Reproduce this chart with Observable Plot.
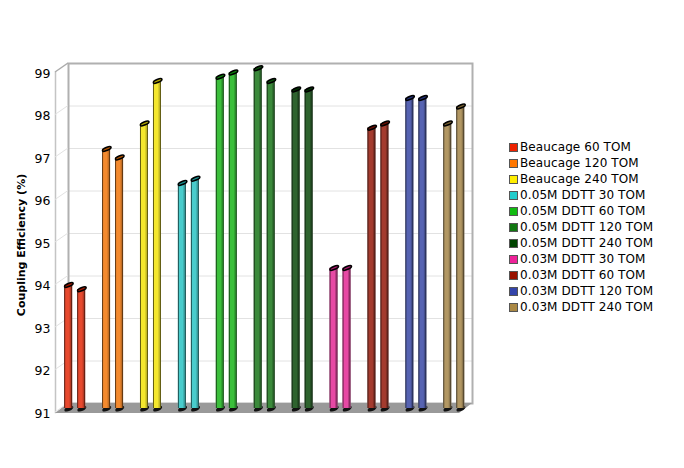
<!DOCTYPE html>
<html><head><meta charset="utf-8">
<script src="https://cdn.jsdelivr.net/npm/d3@7"></script>
<script src="https://cdn.jsdelivr.net/npm/@observablehq/plot@0.6"></script>
<style>
html,body{margin:0;padding:0;background:#fff}
#wrap{position:relative;width:684px;height:468px;overflow:hidden}
#legend{position:absolute;left:509px;top:139px;font:12px "DejaVu Sans",sans-serif;color:#000}
#legend div{height:16px;line-height:16px;white-space:nowrap;display:flex;align-items:center}
#legend i{display:inline-block;width:7px;height:7px;border:1px solid #555;margin-right:2px;box-sizing:content-box}
#legend span{letter-spacing:0.1px}
</style></head><body><div id="wrap"><div id="legend"></div></div>
<script>
const seriesNames = ["Beaucage 60 TOM","Beaucage 120 TOM","Beaucage 240 TOM","0.05M DDTT 30 TOM","0.05M DDTT 60 TOM","0.05M DDTT 120 TOM","0.05M DDTT 240 TOM","0.03M DDTT 30 TOM","0.03M DDTT 60 TOM","0.03M DDTT 120 TOM","0.03M DDTT 240 TOM"];
const firstValues = [93.9,97.1,97.7,96.3,98.8,99.0,98.5,94.3,97.6,98.3,97.7];
const secondValues = [93.8,96.9,98.7,96.4,98.9,98.7,98.5,94.3,97.7,98.3,98.1];
const colors = ["#ee2200","#ff7700","#ffee00","#22cccc","#11bb11","#117711","#004400","#ee2299","#991100","#3344aa","#aa8844"];
const yTicks = [91,92,93,94,95,96,97,98,99];
const depthX = 13, depthY = 9, barW = 8, lift = 4, nudge = 0.7;
const band = 37.9;
const rows = seriesNames.flatMap((s,i)=>[{s,v:firstValues[i],o:-6.5},{s,v:secondValues[i],o:6.5}]);

function ell(rx,ry,rot){
  return {draw(c){
    const k=0.5523, R=(x,y)=>[x*Math.cos(rot)-y*Math.sin(rot),x*Math.sin(rot)+y*Math.cos(rot)];
    const p=(x,y)=>R(x*rx,y*ry);
    c.moveTo(...p(1,0));
    c.bezierCurveTo(...p(1,k),...p(k,1),...p(0,1));
    c.bezierCurveTo(...p(-k,1),...p(-1,k),...p(-1,0));
    c.bezierCurveTo(...p(-1,-k),...p(-k,-1),...p(0,-1));
    c.bezierCurveTo(...p(k,-1),...p(1,-k),...p(1,0));
    c.closePath();
  }};
}
const topCap = ell(4.6,1.5,-0.42);

const chrome = (index,{y},values,{width,height,marginLeft,marginRight,marginBottom})=>{
  const g=d3.create("svg:g");
  const L=marginLeft,R=width-marginRight,B=height-marginBottom;
  g.append("path").attr("d",`M${L},${B+1}L${L+depthX},${B-depthY}H${R}L${R-depthX},${B+1}Z`).attr("fill","#999");
  for(const t of yTicks){
    g.append("line").attr("x1",L).attr("x2",L+depthX).attr("y1",y(t)).attr("y2",y(t)-depthY)
     .attr("stroke",t===99?"#aaa":"#e2e2e2").attr("stroke-width",t===99?1.5:1);
  }
  return g.node();
};

function stripe(o,fill,opacity,from,w){
  const l=band/2+o-barW/2+from+nudge;
  return Plot.barY(rows.filter(d=>d.o===o),{x:"s",y1:()=>91,y2:"v",dy:-lift,insetLeft:l,insetRight:band-l-w,fill,fillOpacity:opacity});
}
function cylinder(o){
  const data=rows.filter(d=>d.o===o);
  return [
    Plot.dot(data,{x:"s",y:()=>91,dx:o+0.2+nudge,dy:-lift+0.2,symbol:ell(4.8,2.3,-0.42),r:3,fill:"#111"}),
    stripe(o,"#fff",1,0,barW),
    stripe(o,d=>d.s,0.84,0,barW),
    stripe(o,"#777",0.08,0,barW),
    stripe(o,"#000",0.2,5.5,2.5),
    stripe(o,"#000",0.6,0,1),
    stripe(o,"#000",0.5,7,1),
    Plot.dot(data,{x:"s",y:"v",dx:o+0.2+nudge,dy:-lift-0.3,symbol:topCap,r:3,fill:"s",stroke:"#000",strokeWidth:1.6}),
    Plot.dot(data,{x:"s",y:"v",dx:o+0.2+nudge,dy:-lift-0.3,symbol:topCap,r:3,fill:"#000",fillOpacity:0.3})
  ];
}

const chart = Plot.plot({
  width:684,height:468,marginLeft:55,marginRight:212,marginTop:72,marginBottom:56,
  style:{background:"transparent",fontFamily:"'DejaVu Sans',sans-serif"},
  x:{type:"band",domain:seriesNames,padding:0,round:false,axis:null},
  y:{domain:[91,99],ticks:yTicks,label:null},
  color:{domain:seriesNames,range:colors},
  marks:[
    Plot.ruleY(yTicks.slice(1,-1),{stroke:"#e2e2e2",strokeWidth:1,dy:-depthY,insetLeft:depthX}),
    Plot.frame({stroke:"#b0b0b0",strokeWidth:2,dy:-depthY,insetLeft:depthX,fill:"#fff",fillOpacity:0}),
    Plot.frame({anchor:"left",stroke:"#c4c4c4",strokeWidth:1.5}),
    chrome,
    ...cylinder(-6.5),
    ...cylinder(6.5),
    Plot.axisY(yTicks,{tickSize:0,tickPadding:5,fontSize:12.5,dy:1,label:null,fill:"#000"}),
    Plot.text(["Coupling Efficiency (%)"],{frameAnchor:"left",rotate:-90,dx:-34,dy:2.5,textAnchor:"middle",fontWeight:"bold",fontSize:11,fill:"#000"})
  ]
});
const wrap=document.getElementById("wrap");
wrap.prepend(chart);
const lg=d3.select("#legend");
seriesNames.forEach((s,i)=>{const r=lg.append("div");r.append("i").style("background",colors[i]);r.append("span").text(s);});
</script></body></html>
